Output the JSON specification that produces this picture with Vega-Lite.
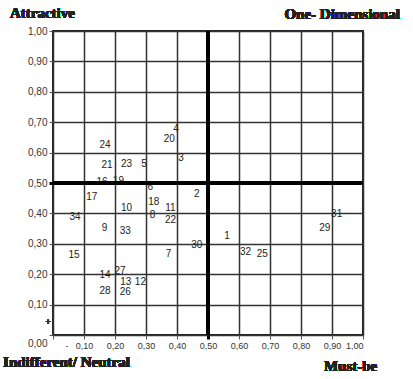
{
  "$schema": "https://vega.github.io/schema/vega-lite/v6.json",
  "width": 310,
  "height": 304,
  "autosize": {"type": "none"},
  "padding": {"left": 53, "top": 31, "right": 50, "bottom": 44},
  "background": "white",
  "config": {
    "view": {"stroke": "#222", "strokeWidth": 2},
    "axis": {"domain": false, "grid": true, "labelOverlap": false, "gridColor": "#333", "gridWidth": 1.5, "gridOpacity": 1, "tickColor": "#555", "tickSize": 4, "labelPadding": 2, "labelFont": "Liberation Sans", "labelColor": "#333"}
  },
  "data": {"values": [
    {"id": "1", "x": 0.561, "y": 0.327},
    {"id": "2", "x": 0.464, "y": 0.464},
    {"id": "3", "x": 0.413, "y": 0.583},
    {"id": "4", "x": 0.397, "y": 0.676},
    {"id": "5", "x": 0.294, "y": 0.563},
    {"id": "6", "x": 0.314, "y": 0.488},
    {"id": "7", "x": 0.373, "y": 0.266},
    {"id": "8", "x": 0.321, "y": 0.395},
    {"id": "9", "x": 0.166, "y": 0.351},
    {"id": "10", "x": 0.237, "y": 0.417},
    {"id": "11", "x": 0.379, "y": 0.417},
    {"id": "12", "x": 0.282, "y": 0.175},
    {"id": "13", "x": 0.235, "y": 0.175},
    {"id": "14", "x": 0.168, "y": 0.197},
    {"id": "15", "x": 0.068, "y": 0.263},
    {"id": "16", "x": 0.158, "y": 0.503},
    {"id": "17", "x": 0.125, "y": 0.455},
    {"id": "18", "x": 0.325, "y": 0.437},
    {"id": "19", "x": 0.211, "y": 0.505},
    {"id": "20", "x": 0.375, "y": 0.646},
    {"id": "21", "x": 0.174, "y": 0.558},
    {"id": "22", "x": 0.379, "y": 0.379},
    {"id": "23", "x": 0.237, "y": 0.563},
    {"id": "24", "x": 0.168, "y": 0.624},
    {"id": "25", "x": 0.675, "y": 0.268},
    {"id": "26", "x": 0.233, "y": 0.140},
    {"id": "27", "x": 0.216, "y": 0.209},
    {"id": "28", "x": 0.168, "y": 0.145},
    {"id": "29", "x": 0.877, "y": 0.351},
    {"id": "30", "x": 0.464, "y": 0.296},
    {"id": "31", "x": 0.915, "y": 0.398},
    {"id": "32", "x": 0.621, "y": 0.273},
    {"id": "33", "x": 0.233, "y": 0.343},
    {"id": "34", "x": 0.071, "y": 0.387}
  ]},
  "resolve": {"axis": {"x": "independent", "y": "independent"}},
  "layer": [
    {
      "mark": {"type": "text", "font": "Liberation Sans", "fontSize": 10, "color": "#222", "align": "center", "baseline": "middle"},
      "encoding": {
        "x": {"field": "x", "type": "quantitative", "title": null, "scale": {"domain": [0, 1], "nice": false, "zero": false},
          "axis": {"title": null, "values": [0, 0.1, 0.2, 0.3, 0.4, 0.5, 0.6, 0.7, 0.8, 0.9, 1], "labelFontSize": 9, "labelOverlap": false, "grid": true,
            "labelExpr": "datum.value == 0 ? '-' : replace(format(datum.value, '.2f'), '.', ',')",
            "labelOffset": {"condition": {"test": "datum.value == 0", "value": 12}, "value": 0},
            "tickWidth": {"condition": {"test": "datum.value == 0.5", "value": 3}, "value": 1},
            "tickColor": {"condition": {"test": "datum.value == 0.5", "value": "#000"}, "value": "#555"}}},
        "y": {"field": "y", "type": "quantitative", "title": null, "scale": {"domain": [0, 1], "nice": false, "zero": false},
          "axis": {"title": null, "values": [0, 0.1, 0.2, 0.3, 0.4, 0.5, 0.6, 0.7, 0.8, 0.9, 1], "labelFontSize": 10, "labelOverlap": false, "grid": true,
            "labelExpr": "replace(format(datum.value, '.2f'), '.', ',')",
            "labelOffset": {"condition": {"test": "datum.value == 0", "value": 8}, "value": 0},
            "tickWidth": {"condition": {"test": "datum.value == 0.5", "value": 3}, "value": 1},
            "tickColor": {"condition": {"test": "datum.value == 0.5", "value": "#000"}, "value": "#555"}}},
        "text": {"field": "id", "type": "nominal"}
      }
    },
    {
      "mark": {"type": "rule", "color": "#000", "strokeWidth": 3},
      "encoding": {"x": {"datum": 0.5, "type": "quantitative", "axis": null}}
    },
    {
      "mark": {"type": "rule", "color": "#000", "strokeWidth": 3},
      "encoding": {"y": {"datum": 0.5, "type": "quantitative", "axis": null}}
    },
    {
      "mark": {"type": "text", "text": "Attractive", "font": "Liberation Serif", "fontWeight": "bold", "fontSize": 15, "color": "#222", "align": "left", "baseline": "middle"},
      "encoding": {"x": {"datum": -0.139, "type": "quantitative", "axis": null}, "y": {"datum": 1.060, "type": "quantitative", "axis": null}}
    },
    {
      "mark": {"type": "text", "text": "One- Dimensional", "font": "Liberation Serif", "fontWeight": "bold", "fontSize": 15, "color": "#222", "align": "right", "baseline": "middle"},
      "encoding": {"x": {"datum": 1.119, "type": "quantitative", "axis": null}, "y": {"datum": 1.056, "type": "quantitative", "axis": null}}
    },
    {
      "mark": {"type": "text", "text": "Indifferent/ Neutral", "font": "Liberation Serif", "fontWeight": "bold", "fontSize": 15, "color": "#222", "align": "left", "baseline": "middle"},
      "encoding": {"x": {"datum": -0.161, "type": "quantitative", "axis": null}, "y": {"datum": -0.089, "type": "quantitative", "axis": null}}
    },
    {
      "mark": {"type": "text", "text": "Must-be", "font": "Liberation Serif", "fontWeight": "bold", "fontSize": 15, "color": "#222", "align": "center", "baseline": "middle"},
      "encoding": {"x": {"datum": 0.960, "type": "quantitative", "axis": null}, "y": {"datum": -0.102, "type": "quantitative", "axis": null}}
    },
    {
      "mark": {"type": "text", "text": "+", "font": "Liberation Sans", "fontSize": 9, "color": "#333", "align": "center", "baseline": "middle"},
      "encoding": {"x": {"datum": -0.016, "type": "quantitative", "axis": null}, "y": {"datum": 0.043, "type": "quantitative", "axis": null}}
    }
  ]
}
